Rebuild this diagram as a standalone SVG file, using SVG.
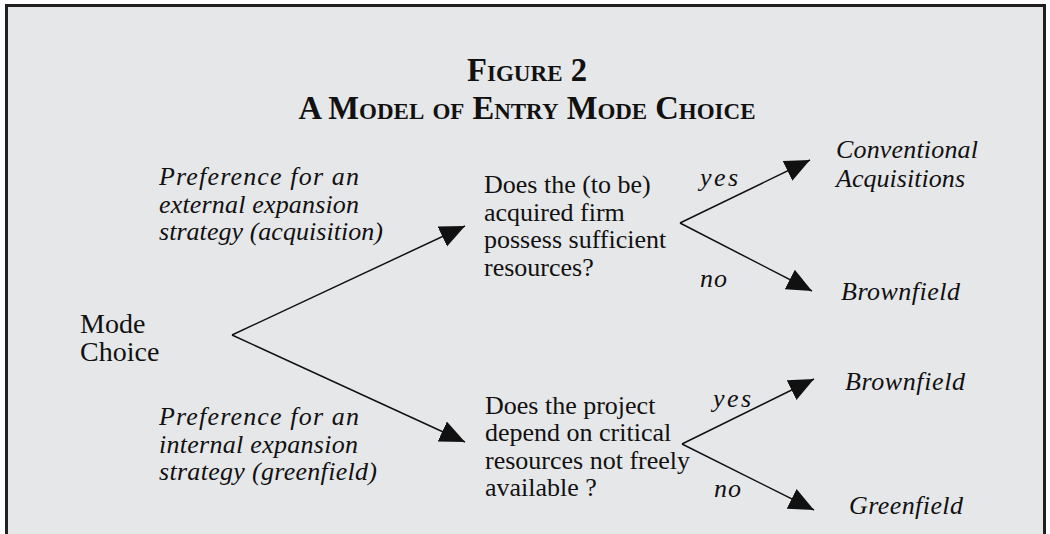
<svg xmlns="http://www.w3.org/2000/svg" width="1050" height="534" viewBox="0 0 1050 534">
<defs>
<marker id="ah" markerUnits="userSpaceOnUse" markerWidth="27" markerHeight="23" refX="25" refY="11" orient="auto">
<path d="M0,0 L25,11 L0,22 Z" fill="#111"/>
</marker>
<style>
.t{font-family:"Liberation Serif","Times New Roman",serif;fill:#111}
.title{font-size:34px;font-weight:bold;font-variant:small-caps}
.rom{font-size:26px}
.big{font-size:28px}
.it{font-size:26px;font-style:italic}
.c{stroke:#111;stroke-width:1.5;fill:none;marker-end:url(#ah)}
</style>
</defs>
<rect x="0" y="0" width="1050" height="534" fill="#ffffff"/>
<rect x="6.5" y="5.5" width="1038" height="540" fill="#e6e7e9" stroke="#231f20" stroke-width="3"/>
<g id="title">
<text class="t title" x="527" y="81" text-anchor="middle" textLength="120" lengthAdjust="spacingAndGlyphs">Figure 2</text>
<text class="t title" x="527" y="119" text-anchor="middle" textLength="457" lengthAdjust="spacingAndGlyphs">A Model of Entry Mode Choice</text>
</g>
<g id="connectors">
<line class="c" x1="232" y1="335" x2="465" y2="226"/>
<line class="c" x1="232" y1="335" x2="465" y2="442"/>
<line class="c" x1="680" y1="223" x2="810" y2="160"/>
<line class="c" x1="680" y1="223" x2="812" y2="291"/>
<line class="c" x1="682" y1="444" x2="814" y2="379"/>
<line class="c" x1="682" y1="444" x2="814" y2="510"/>
</g>
<g id="mode-choice">
<text class="t big" x="80" y="333">Mode</text>
<text class="t big" x="80" y="361">Choice</text>
</g>
<g id="pref-external">
<text class="t it" x="159" y="185" textLength="200" lengthAdjust="spacing">Preference for an</text>
<text class="t it" x="159" y="213" textLength="200" lengthAdjust="spacing">external expansion</text>
<text class="t it" x="159" y="240" textLength="224" lengthAdjust="spacing">strategy (acquisition)</text>
</g>
<g id="pref-internal">
<text class="t it" x="159" y="425" textLength="200" lengthAdjust="spacing">Preference for an</text>
<text class="t it" x="159" y="453" textLength="199" lengthAdjust="spacing">internal expansion</text>
<text class="t it" x="159" y="480" textLength="218" lengthAdjust="spacing">strategy (greenfield)</text>
</g>
<g id="q-acquired">
<text class="t rom" x="484" y="193">Does the (to be)</text>
<text class="t rom" x="484" y="221">acquired firm</text>
<text class="t rom" x="484" y="248">possess sufficient</text>
<text class="t rom" x="484" y="276">resources?</text>
</g>
<g id="q-project">
<text class="t rom" x="485" y="414">Does the project</text>
<text class="t rom" x="485" y="441">depend on critical</text>
<text class="t rom" x="485" y="469">resources not freely</text>
<text class="t rom" x="485" y="496">available ?</text>
</g>
<g id="labels">
<text class="t it" x="700" y="186" textLength="38" lengthAdjust="spacing">yes</text>
<text class="t it" x="700" y="287" textLength="27" lengthAdjust="spacing">no</text>
<text class="t it" x="713" y="407" textLength="38" lengthAdjust="spacing">yes</text>
<text class="t it" x="714" y="497" textLength="27" lengthAdjust="spacing">no</text>
</g>
<g id="out-conventional">
<text class="t it" x="836" y="158" textLength="142" lengthAdjust="spacing">Conventional</text>
<text class="t it" x="836" y="187" textLength="129" lengthAdjust="spacing">Acquisitions</text>
</g>
<g id="out-brownfield-1">
<text class="t it" x="841" y="300" textLength="119" lengthAdjust="spacing">Brownfield</text>
</g>
<g id="out-brownfield-2">
<text class="t it" x="845" y="390" textLength="120" lengthAdjust="spacing">Brownfield</text>
</g>
<g id="out-greenfield">
<text class="t it" x="849" y="514" textLength="114" lengthAdjust="spacing">Greenfield</text>
</g>
</svg>
